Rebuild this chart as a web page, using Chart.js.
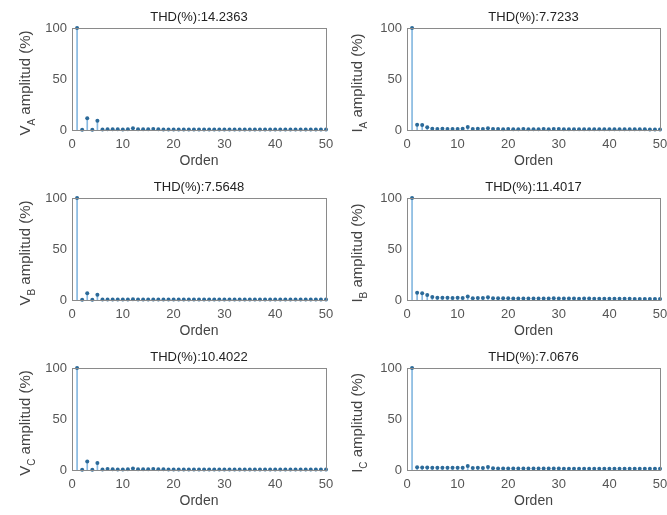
<!DOCTYPE html>
<html>
<head>
<meta charset="utf-8">
<script src="https://cdn.jsdelivr.net/npm/chart.js@4.4.1/dist/chart.umd.min.js"></script>
<style>
  body { margin: 0; background: #fff; }
  #wrap { position: relative; width: 667px; height: 515px; background: #fff; }
  #wrap canvas { position: absolute; }
</style>
</head>
<body>
<div id="wrap">
  <canvas id="c0" width="333" height="170" style="left:0;top:0"></canvas>
  <canvas id="c1" width="334" height="170" style="left:333px;top:0"></canvas>
  <canvas id="c2" width="333" height="170" style="left:0;top:170px"></canvas>
  <canvas id="c3" width="334" height="170" style="left:333px;top:170px"></canvas>
  <canvas id="c4" width="333" height="170" style="left:0;top:340px"></canvas>
  <canvas id="c5" width="334" height="170" style="left:333px;top:340px"></canvas>
</div>
<script>
// harmonic order
const orders = [1,2,3,4,5,6,7,8,9,10,11,12,13,14,15,16,17,18,19,20,21,22,23,24,25,
                26,27,28,29,30,31,32,33,34,35,36,37,38,39,40,41,42,43,44,45,46,47,48,49,50];

// amplitudes in % of fundamental
const vaAmp = [100,0.3,11.5,0.3,9.0,0.6,0.8,0.7,0.7,0.6,0.7,1.6,0.8,0.7,0.8,1.0,0.7,0.6,0.6,0.6,
               0.6,0.5,0.5,0.5,0.5,0.5,0.5,0.6,0.5,0.5,0.5,0.5,0.5,0.5,0.5,0.5,0.5,0.5,0.5,0.5,
               0.5,0.5,0.5,0.5,0.5,0.5,0.4,0.4,0.4,0.4];
const iaAmp = [100,5.2,5.0,2.6,1.3,1.1,1.2,1.1,1.0,1.1,1.2,3.0,1.0,1.2,1.0,1.8,0.9,0.9,0.8,0.9,
               0.8,0.8,0.9,0.8,0.8,0.8,0.9,0.8,1.0,0.9,0.8,0.8,0.8,0.7,0.8,0.8,0.7,0.7,0.8,0.7,
               0.7,0.7,0.7,0.7,0.7,0.7,0.7,0.6,0.6,0.6];
const vbAmp = [100,0.3,6.5,0.3,5.2,0.5,0.6,0.5,0.5,0.5,0.5,0.7,0.5,0.5,0.5,0.6,0.5,0.5,0.5,0.5,
               0.5,0.5,0.5,0.5,0.5,0.5,0.5,0.5,0.5,0.5,0.4,0.4,0.4,0.4,0.4,0.4,0.4,0.4,0.4,0.4,
               0.4,0.4,0.4,0.4,0.4,0.4,0.4,0.4,0.4,0.4];
const ibAmp = [100,7.2,6.5,5.0,3.0,2.2,2.3,2.1,2.0,2.2,2.0,3.5,1.8,1.9,2.0,2.6,1.7,1.6,1.6,1.6,
               1.5,1.5,1.5,1.5,1.5,1.4,1.5,1.5,1.6,1.5,1.4,1.4,1.4,1.3,1.4,1.4,1.3,1.3,1.3,1.2,
               1.2,1.2,1.2,1.2,1.1,1.1,1.1,1.1,1.1,1.0];
const vcAmp = [100,0.3,8.3,0.3,6.8,0.6,0.9,0.7,0.6,0.6,0.7,1.4,0.8,0.8,0.8,1.0,0.7,0.7,0.6,0.6,
               0.6,0.6,0.6,0.6,0.6,0.6,0.6,0.6,0.6,0.6,0.6,0.6,0.6,0.6,0.6,0.6,0.6,0.6,0.6,0.6,
               0.6,0.6,0.6,0.6,0.6,0.6,0.6,0.6,0.6,0.6];
const icAmp = [100,2.6,2.5,2.4,2.3,2.2,2.3,2.2,2.1,2.2,2.3,4.0,2.0,2.1,2.0,3.0,1.6,1.5,1.5,1.5,
               1.4,1.4,1.4,1.4,1.4,1.4,1.5,1.4,1.4,1.4,1.3,1.3,1.3,1.3,1.3,1.3,1.3,1.3,1.3,1.3,
               1.2,1.2,1.2,1.2,1.2,1.2,1.2,1.2,1.2,1.2];

const titles = ['THD(%):14.2363','THD(%):7.7233','THD(%):7.5648','THD(%):11.4017','THD(%):10.4022','THD(%):7.0676'];
const yLetters = ['V','I','V','I','V','I'];
const ySubs = ['A','A','B','B','C','C'];
const xTicks = [0,10,20,30,40,50];
const yTicks = [0,50,100];

const allAmps = [vaAmp, iaAmp, vbAmp, ibAmp, vcAmp, icAmp];
const FONT = '"Liberation Sans", Arial, sans-serif';

// title, y label with subscript, and box round the axes
const decor = {
  id: 'decor',
  afterDraw(chart, args, opts) {
    const ctx = chart.ctx;
    const a = chart.chartArea;
    ctx.save();
    ctx.strokeStyle = '#8a8a8a';
    ctx.lineWidth = 1;
    ctx.strokeRect(a.left + 0.5, a.top + 0.5, a.right - a.left, a.bottom - a.top);

    ctx.fillStyle = '#222';
    ctx.font = '13px ' + FONT;
    ctx.textAlign = 'center';
    ctx.textBaseline = 'middle';
    ctx.fillText(opts.title, (a.left + a.right) / 2, 17);

    // rotated y label
    const big = '15px ' + FONT, small = '10px ' + FONT;
    const rest = ' amplitud (%)';
    ctx.font = big;
    const w1 = ctx.measureText(opts.letter).width;
    const w3 = ctx.measureText(rest).width;
    ctx.font = small;
    const w2 = ctx.measureText(opts.sub).width;
    const total = w1 + w2 + w3;
    ctx.translate(opts.labelX, (a.top + a.bottom) / 2 + 4);
    ctx.rotate(-Math.PI / 2);
    ctx.textAlign = 'left';
    ctx.fillStyle = '#444';
    let x = -total / 2;
    ctx.font = big;
    ctx.fillText(opts.letter, x, 0);
    x += w1;
    ctx.font = small;
    ctx.fillText(opts.sub, x, 6);
    x += w2;
    ctx.font = big;
    ctx.fillText(rest, x, 0);
    ctx.restore();
  }
};

allAmps.forEach((amps, i) => {
  const right = i % 2 === 1;
  const pts = orders.map((o, k) => ({ x: o, y: amps[k] }));
  new Chart(document.getElementById('c' + i), {
    data: {
      datasets: [
        {
          type: 'scatter',
          data: pts,
          pointRadius: 2,
          pointBackgroundColor: '#2b6a99',
          pointBorderColor: '#2b6a99',
          pointBorderWidth: 0,
          clip: false,
          order: 0
        },
        {
          type: 'bar',
          data: pts,
          backgroundColor: '#86b8e0',
          barThickness: 1,
          order: 1
        }
      ]
    },
    options: {
      responsive: false,
      animation: false,
      layout: { padding: { top: 28, right: 7, left: 0, bottom: 0 } },
      plugins: {
        legend: { display: false },
        tooltip: { enabled: false },
        decor: { title: titles[i], letter: yLetters[i], sub: ySubs[i], labelX: right ? 25 : 26 }
      },
      scales: {
        x: {
          type: 'linear',
          min: 0, max: 50,
          offset: false,
          afterBuildTicks: s => { s.ticks = xTicks.map(v => ({ value: v })); },
          afterFit: s => { s.height = 40; s.paddingRight = 0; s.paddingLeft = 0; },
          grid: { display: false, drawTicks: false },
          border: { display: false },
          ticks: { color: '#555', font: { family: FONT, size: 13 }, padding: 7, maxRotation: 0 },
          title: { display: true, text: 'Orden', color: '#444', font: { family: FONT, size: 14 }, padding: { top: 0, bottom: 0 } }
        },
        y: {
          min: 0, max: 100,
          afterBuildTicks: s => { s.ticks = yTicks.map(v => ({ value: v })); },
          afterFit: s => { s.width = right ? 74 : 72; s.paddingTop = 0; s.paddingBottom = 0; },
          grid: { display: false, drawTicks: false },
          border: { display: false },
          ticks: { color: '#555', font: { family: FONT, size: 13 }, padding: 5 }
        }
      }
    },
    plugins: [decor]
  });
});
</script>
</body>
</html>
